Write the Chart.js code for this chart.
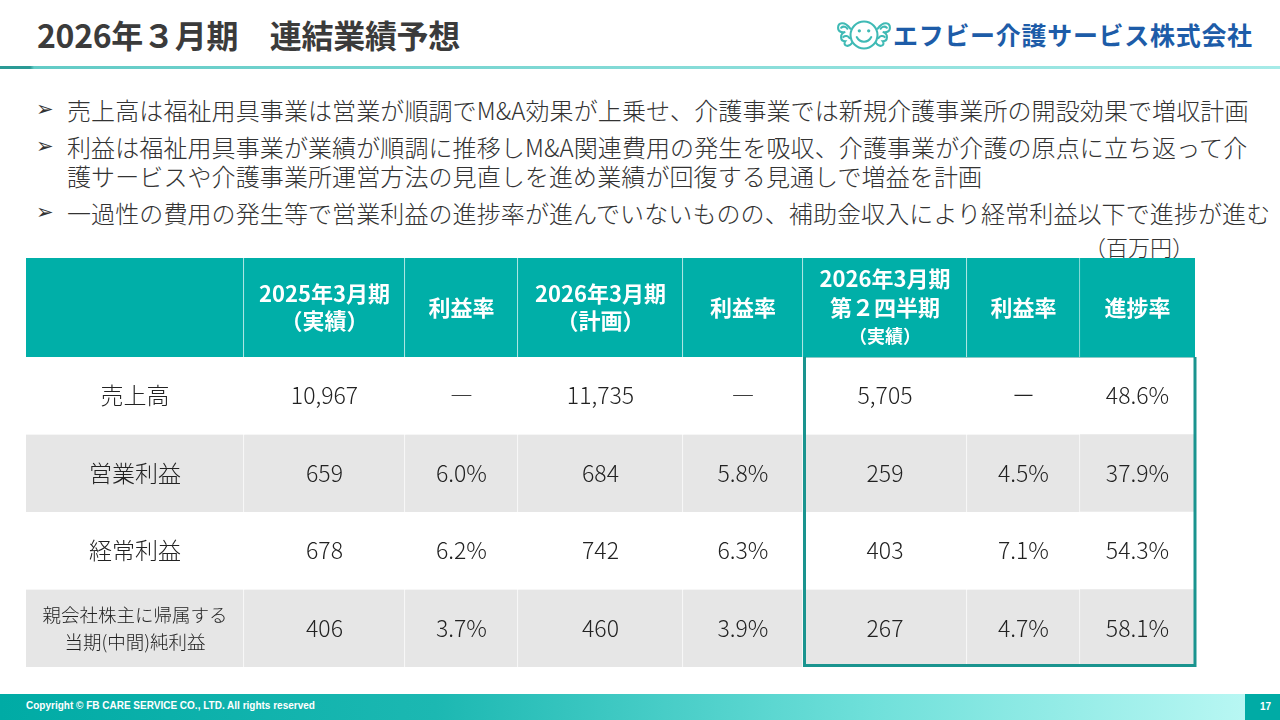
<!DOCTYPE html>
<html lang="ja">
<head>
<meta charset="utf-8">
<title>2026年3月期 連結業績予想</title>
<script src="https://cdn.jsdelivr.net/npm/chart.js@4.4.1/dist/chart.umd.min.js"></script>
<style>
  html, body { margin: 0; padding: 0; }
  body {
    width: 1280px; height: 720px; position: relative; overflow: hidden; background: #fff;
    font-family: "Noto Sans CJK JP", "Noto Sans", sans-serif; color: #333;
  }
  .title { position: absolute; left: 37px; top: 11px; font-size: 32px; font-weight: 700; color: #3b3b3b; white-space: nowrap; letter-spacing: -0.3px; }
  .rule { position: absolute; left: 0; top: 66px; width: 1280px; height: 3px;
    background: linear-gradient(90deg, #2a9a95 0, #2a9a95 30px, #62cbc6 34px, #a6ebe8 100%); }
  .logo { position: absolute; left: 836px; top: 14px; }
  .company { position: absolute; left: 893px; top: 16px; font-size: 25px; font-weight: 700; color: #1d5ca8; white-space: nowrap; letter-spacing: 0.7px; }
  .arrow { position: absolute; left: 36px; font-size: 21px; line-height: 29px; color: #333; font-family: "DejaVu Sans", sans-serif; }
  .line { position: absolute; left: 67px; font-size: 24px; font-weight: 300; line-height: 29px; color: #333; white-space: nowrap; letter-spacing: 0.1px; }
  .unit { position: absolute; right: 86px; top: 231px; font-size: 22px; font-weight: 300; line-height: 30px; color: #333; }
  canvas { position: absolute; }
  #headChart { left: 26px; top: 258px; }
  #bodyChart { left: 26px; top: 357px; }
  .footer { position: absolute; left: 0; top: 694px; width: 1245px; height: 26px;
    background: linear-gradient(90deg, #00aba5 0, #1cb8b2 35%, #6fe0da 70%, #b8f7f3 100%); }
  .footer span { position: absolute; left: 26px; top: 6px; font-family: "Liberation Sans Narrow", "Liberation Sans", sans-serif; font-weight: 700; font-size: 10px; color: #fff; }
  .page { position: absolute; left: 1245px; top: 694px; width: 35px; height: 26px; background: #00aba5; color: #fff;
    font-family: "Liberation Sans", sans-serif; font-weight: 700; font-size: 10px; line-height: 26px; }
  .page b { position: absolute; right: 9px; top: 0; }
</style>
</head>
<body>
<div class="title">2026年３月期　連結業績予想</div>
<div class="rule"></div>
<svg class="logo" width="56" height="42" viewBox="0 0 54 40">
  <g fill="none" stroke="#3fbab5" stroke-width="2" stroke-linecap="round">
    <path d="M14 14 C8 6 2 8 2 13 C2 17 6 18 9 17 C3 19 4 26 9 26 C6 30 12 33 16 27"/>
    <path d="M5 13 C7 11 10 12 11 14"/>
    <path d="M7 22 C9 20 12 21 13 23"/>
    <path d="M40 14 C46 6 52 8 52 13 C52 17 48 18 45 17 C51 19 50 26 45 26 C48 30 42 33 38 27"/>
    <path d="M49 13 C47 11 44 12 43 14"/>
    <path d="M47 22 C45 20 42 21 41 23"/>
    <circle cx="27" cy="20" r="13" fill="#fff"/>
    <path d="M20 22 C23 28 31 28 34 22"/>
  </g>
  <circle cx="22.5" cy="16" r="1.6" fill="#3fbab5"/>
  <circle cx="31.5" cy="16" r="1.6" fill="#3fbab5"/>
</svg>
<div class="company">エフビー介護サービス株式会社</div>

<div class="arrow" style="top:95px">➢</div>
<div class="line" style="top:95px">売上高は福祉用具事業は営業が順調でM&amp;A効果が上乗せ、介護事業では新規介護事業所の開設効果で増収計画</div>
<div class="arrow" style="top:132px">➢</div>
<div class="line" style="top:132px">利益は福祉用具事業が業績が順調に推移しM&amp;A関連費用の発生を吸収、介護事業が介護の原点に立ち返って介<br>護サービスや介護事業所運営方法の見直しを進め業績が回復する見通しで増益を計画</div>
<div class="arrow" style="top:198px">➢</div>
<div class="line" style="top:198px">一過性の費用の発生等で営業利益の進捗率が進んでいないものの、補助金収入により経常利益以下で進捗が進む</div>
<div class="unit">（百万円）</div>

<canvas id="headChart" width="1174" height="99"></canvas>
<canvas id="bodyChart" width="1174" height="315"></canvas>

<div class="footer"><span>Copyright © FB CARE SERVICE CO., LTD. All rights reserved</span></div>
<div class="page"><b>17</b></div>

<script>
// table contents (百万円)
const columnHeaders = [
  [],
  ['2025年3月期', '（実績）'],
  ['利益率'],
  ['2026年3月期', '（計画）'],
  ['利益率'],
  ['2026年3月期', '第２四半期', '（実績）'],
  ['利益率'],
  ['進捗率']
];
const rowLabels = [['売上高'], ['営業利益'], ['経常利益'], ['親会社株主に帰属する', '当期(中間)純利益']];
const fy2025Actual = [10967, 659, 678, 406];
const fy2025Margin = [null, 6.0, 6.2, 3.7];
const fy2026Plan = [11735, 684, 742, 460];
const fy2026PlanMargin = [null, 5.8, 6.3, 3.9];
const fy2026Q2Actual = [5705, 259, 403, 267];
const fy2026Q2Margin = [null, 4.5, 7.1, 4.7];
const progressRate = [48.6, 37.9, 54.3, 58.1];

// layout
const colWidths = [218, 161, 113, 165, 120, 164, 113, 115];
const totalWidth = colWidths.reduce((a, b) => a + b, 0);
const FONT = '"Noto Sans CJK JP", "Noto Sans", sans-serif';

const amount = v => v.toLocaleString('en-US');
const pct = dash => v => v === null ? dash : v.toFixed(1) + '%';

const bodyColumns = [
  rowLabels.map(l => l),
  fy2025Actual.map(v => [amount(v)]),
  fy2025Margin.map(v => [pct('―')(v)]),
  fy2026Plan.map(v => [amount(v)]),
  fy2026PlanMargin.map(v => [pct('―')(v)]),
  fy2026Q2Actual.map(v => [amount(v)]),
  fy2026Q2Margin.map(v => [pct('ー')(v)]),
  progressRate.map(v => [pct('―')(v)])
];

function cellCenter(chart, col, row) {
  const el = chart.getDatasetMeta(col).data[row];
  return { x: (el.x + el.base) / 2, y: el.y };
}

function tableChart(id, rows, rowColors, sepColor, padBottom, draw) {
  return new Chart(document.getElementById(id), {
    type: 'bar',
    data: {
      labels: rows,
      datasets: colWidths.map((w, c) => ({
        data: rows.map(() => w),
        backgroundColor: rowColors,
        borderColor: sepColor,
        borderWidth: c < colWidths.length - 1 ? { top: 0, bottom: 0, left: 0, right: 1 } : 0,
        borderSkipped: false,
        barPercentage: 1,
        categoryPercentage: 1
      }))
    },
    options: {
      indexAxis: 'y',
      responsive: false,
      animation: false,
      layout: { padding: { left: 0, top: 0, right: 5, bottom: padBottom } },
      scales: {
        x: { stacked: true, display: false, min: 0, max: totalWidth },
        y: { stacked: true, display: false }
      },
      plugins: { legend: { display: false }, tooltip: { enabled: false } }
    },
    plugins: [{ id: 'cells', afterDatasetsDraw: draw }]
  });
}

tableChart('headChart', ['header'], ['#00afa8'], 'rgba(255,255,255,0.28)', 0, chart => {
  const ctx = chart.ctx;
  ctx.save();
  ctx.fillStyle = '#ffffff';
  ctx.textAlign = 'center';
  ctx.textBaseline = 'middle';
  columnHeaders.forEach((lines, c) => {
    const p = cellCenter(chart, c, 0);
    const gap = lines.length > 2 ? 29 : 27;
    lines.forEach((t, i) => {
      const small = lines.length > 2 && i === 2;
      ctx.font = '700 ' + (small ? 18 : 22) + 'px ' + FONT;
      ctx.fillText(t, p.x, p.y + (i - (lines.length - 1) / 2) * gap);
    });
  });
  ctx.restore();
});

tableChart('bodyChart', rowLabels.map(l => l[0]), ['#ffffff', '#e6e6e6', '#ffffff', '#e6e6e6'],
  'rgba(255,255,255,0.7)', 5, chart => {
  const ctx = chart.ctx;
  ctx.save();
  ctx.fillStyle = '#222222';
  ctx.textAlign = 'center';
  ctx.textBaseline = 'middle';
  bodyColumns.forEach((cells, c) => {
    cells.forEach((lines, r) => {
      const p = cellCenter(chart, c, r);
      const two = lines.length > 1;
      ctx.font = '300 ' + (two ? 18.5 : 23) + 'px ' + FONT;
      lines.forEach((t, i) => ctx.fillText(t, p.x, p.y + (i - (lines.length - 1) / 2) * 27));
    });
  });
  // outline around the Q2 actual columns
  const xs = chart.scales.x;
  const left = xs.getPixelForValue(colWidths.slice(0, 5).reduce((a, b) => a + b, 0));
  const right = xs.getPixelForValue(totalWidth);
  const area = chart.chartArea;
  ctx.strokeStyle = '#1a948f';
  ctx.lineWidth = 3;
  ctx.strokeRect(left + 1.5, area.top - 1, right - left - 1.5, area.bottom - area.top - 0.5);
  ctx.restore();
});
</script>
</body>
</html>
